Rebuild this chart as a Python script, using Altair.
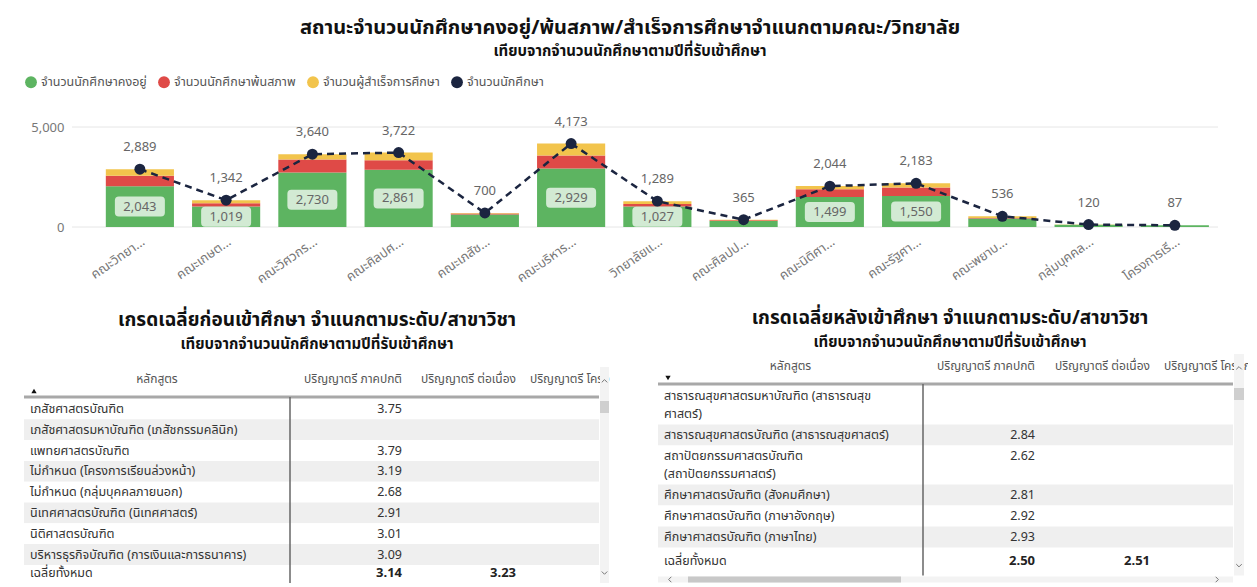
import altair as alt
import pandas as pd

FONT = "'Segoe UI', 'Noto Sans Thai', 'Noto Sans', 'DejaVu Sans', sans-serif"

# ---------------- top chart data ----------------
faculties = ["คณะวิทยา...", "คณะเกษต...", "คณะวิศวกร...", "คณะศิลปศ...", "คณะเภสัช...",
             "คณะบริหาร...", "วิทยาลัยแ...", "คณะศิลปป...", "คณะนิติศา...", "คณะรัฐศา...",
             "คณะพยาบ...", "กลุ่มบุคคล...", "โครงการเรี..."]
retained = [2043, 1019, 2730, 2861, 620, 2929, 1027, 300, 1499, 1550, 430, 110, 85]
dropped = [520, 170, 640, 480, 50, 640, 120, 40, 390, 430, 16, 5, 2]
graduated = [326, 153, 270, 381, 30, 604, 142, 25, 155, 203, 90, 5, 0]
total_students = [2889, 1342, 3640, 3722, 700, 4173, 1289, 365, 2044, 2183, 536, 120, 87]
y_ticks = [0, 5000]

series_names = ["จำนวนนักศึกษาคงอยู่", "จำนวนนักศึกษาพ้นสภาพ", "จำนวนผู้สำเร็จการศึกษา", "จำนวนนักศึกษา"]
series_colors = ["#5DB461", "#DF4A47", "#F2C44C", "#1B2540"]

top_title = "สถานะจำนวนนักศึกษาคงอยู่/พ้นสภาพ/สำเร็จการศึกษาจำแนกตามคณะ/วิทยาลัย"
sub_title = "เทียบจากจำนวนนักศึกษาตามปีที่รับเข้าศึกษา"

# ---------------- table data ----------------
table_headers = ["หลักสูตร", "ปริญญาตรี ภาคปกติ", "ปริญญาตรี ต่อเนื่อง", "ปริญญาตรี โครงการพิเศษ"]
total_label = "เฉลี่ยทั้งหมด"

left_title = "เกรดเฉลี่ยก่อนเข้าศึกษา จำแนกตามระดับ/สาขาวิชา"
left_courses = ["เภสัชศาสตรบัณฑิต", "เภสัชศาสตรมหาบัณฑิต (เภสัชกรรมคลินิก)", "แพทยศาสตรบัณฑิต",
                "ไม่กำหนด (โครงการเรียนล่วงหน้า)", "ไม่กำหนด (กลุ่มบุคคลภายนอก)",
                "นิเทศศาสตรบัณฑิต (นิเทศศาสตร์)", "นิติศาสตรบัณฑิต",
                "บริหารธุรกิจบัณฑิต (การเงินและการธนาคาร)"]
left_regular = ["3.75", "", "3.79", "3.19", "2.68", "2.91", "3.01", "3.09"]
left_totals = ["3.14", "3.23"]

right_title = "เกรดเฉลี่ยหลังเข้าศึกษา จำแนกตามระดับ/สาขาวิชา"
right_courses = ["สาธารณสุขศาสตรมหาบัณฑิต (สาธารณสุข\nศาสตร์)", "สาธารณสุขศาสตรบัณฑิต (สาธารณสุขศาสตร์)",
                 "สถาปัตยกรรมศาสตรบัณฑิต\n(สถาปัตยกรรมศาสตร์)", "ศึกษาศาสตรบัณฑิต (สังคมศึกษา)",
                 "ศึกษาศาสตรบัณฑิต (ภาษาอังกฤษ)", "ศึกษาศาสตรบัณฑิต (ภาษาไทย)"]
right_regular = ["", "2.84", "2.62", "2.81", "2.92", "2.93"]
right_totals = ["2.50", "2.51"]

# ---------------- top chart ----------------
TOP_W, TOP_H = 1194, 130
rows = []
for i, f in enumerate(faculties):
    for k, vals in enumerate([retained, dropped, graduated]):
        rows.append({"faculty": f, "series": series_names[k], "value": vals[i], "order": k})
bars_df = pd.DataFrame(rows)
tot_df = pd.DataFrame({"faculty": faculties, "total": total_students, "retained": retained})
tot_df["mid"] = tot_df["retained"] / 2
tot_df["show"] = tot_df["retained"] >= 1000

xenc = alt.X("faculty:N", sort=faculties,
             scale=alt.Scale(paddingInner=0.21, paddingOuter=0.527, align=0.9),
             axis=alt.Axis(title=None, labelAngle=-35, labelAlign="right", labelBaseline="top",
                           labelColor="#777777", labelFontSize=13, ticks=False, domain=False,
                           labelPadding=8, labelFont=FONT))
yscale = alt.Scale(domain=[0, 6500])
yaxis = alt.Axis(values=y_ticks, labelExpr="format(datum.value, ',')", title=None,
                 labelColor="#777777", labelFontSize=13, ticks=False, domain=False, grid=False,
                 labelAlign="right", labelPadding=-40, minExtent=0, maxExtent=0, labelFont=FONT)

grid = alt.Chart(pd.DataFrame({"v": y_ticks})).mark_rule(color="#e6e6e6", strokeWidth=1).encode(
    y=alt.Y("v:Q", scale=yscale, axis=yaxis), x=alt.value(48), x2=alt.value(TOP_W))

bars = alt.Chart(bars_df).mark_bar().encode(
    x=xenc,
    y=alt.Y("value:Q", stack="zero", scale=yscale, axis=yaxis),
    color=alt.Color("series:N", scale=alt.Scale(domain=series_names, range=series_colors),
                    legend=alt.Legend(title=None, orient="none", legendX=0, legendY=-22,
                                      direction="horizontal", symbolType="circle", symbolSize=140,
                                      labelFontSize=12.5, labelColor="#555555", columnPadding=10,
                                      labelOffset=3, labelLimit=300, labelFont=FONT)),
    order=alt.Order("order:Q"),
)

base = alt.Chart(tot_df).encode(x=alt.X("faculty:N", sort=faculties))
ytot = alt.Y("total:Q", scale=yscale, axis=yaxis)
ymid = alt.Y("mid:Q", scale=yscale, axis=yaxis)
line = base.mark_line(color="#1B2540", strokeDash=[7, 5], strokeWidth=2.5).encode(y=ytot)
pts = base.mark_circle(size=120, color="#1B2540", opacity=1).encode(y=ytot)
tot_lbl = base.mark_text(dy=-22, fontSize=13, color="#666666", font=FONT).encode(
    y=ytot, text=alt.Text("total:Q", format=","))

RR = "M-0.84,-0.4 L0.84,-0.4 Q1,-0.4 1,-0.24 L1,0.24 Q1,0.4 0.84,0.4 L-0.84,0.4 Q-1,0.4 -1,0.24 L-1,-0.24 Q-1,-0.4 -0.84,-0.4 Z"
boxes = base.transform_filter("datum.show").mark_point(
    shape=RR, size=2500, filled=True, color="white", opacity=0.72, strokeWidth=0).encode(y=ymid)
box_lbl = base.transform_filter("datum.show").mark_text(fontSize=13, color="#666666", font=FONT).encode(
    y=ymid, text=alt.Text("retained:Q", format=","))

top = alt.layer(grid, bars, line, pts, tot_lbl, boxes, box_lbl).properties(
    width=TOP_W, height=TOP_H,
    title=alt.Title(top_title, subtitle=sub_title, fontSize=20, subtitleFontSize=15,
                    fontWeight="bold", subtitleFontWeight="bold", color="#111111",
                    subtitleColor="#111111", anchor="middle", offset=38, font=FONT,
                    subtitleFont=FONT, subtitlePadding=6, dx=9),
)

# ---------------- tables ----------------
LINE_H = 18


def make_table(courses, regular, totals, title, edges, hdr_y, row_h, total_off, width, height,
               arrow, title_offset, hscroll):
    t_left, c1, c2, c3, c4, sb_r = edges
    line_y = hdr_y + 18
    bands, names, vals = [], [], []
    y = line_y + 1.5
    for i, (c, v) in enumerate(zip(courses, regular)):
        parts = c.split("\n")
        h = row_h + LINE_H * (len(parts) - 1)
        bands.append({"x": t_left, "x2": c4, "y": y, "y2": y + h,
                      "fill": "#efefef" if i % 2 == 1 else "#ffffff"})
        for j, p in enumerate(parts):
            names.append({"x": t_left + 6, "y": y + row_h / 2 + LINE_H * j, "t": p})
        if v:
            vals.append({"x": c2, "y": y + row_h / 2, "t": v})
        y += h
    ty = y + total_off
    names.append({"x": t_left + 6, "y": ty, "t": total_label})
    tot_vals = [{"x": c2, "y": ty, "t": totals[0]}, {"x": c3, "y": ty, "t": totals[1]}]
    bottom = ty + total_off + 2

    X = lambda f: alt.X(f"{f}:Q", scale=alt.Scale(domain=[0, width]), axis=None)
    Y = lambda f: alt.Y(f"{f}:Q", scale=alt.Scale(domain=[0, height], reverse=True), axis=None)

    band_l = alt.Chart(pd.DataFrame(bands)).mark_rect().encode(
        x=X("x"), x2="x2", y=Y("y"), y2="y2", fill=alt.Fill("fill:N", scale=None))
    name_l = alt.Chart(pd.DataFrame(names)).mark_text(
        align="left", baseline="middle", fontSize=12.5, color="#333333", font=FONT).encode(
        x=X("x"), y=Y("y"), text="t:N")
    val_l = alt.Chart(pd.DataFrame(vals)).mark_text(
        align="right", baseline="middle", fontSize=12.5, color="#333333", font=FONT).encode(
        x=X("x"), y=Y("y"), text="t:N")
    tot_l = alt.Chart(pd.DataFrame(tot_vals)).mark_text(
        align="right", baseline="middle", fontSize=13, fontWeight="bold", color="#222222",
        font=FONT).encode(x=X("x"), y=Y("y"), text="t:N")
    hdr = pd.DataFrame([
        {"x": (t_left + c1) / 2, "y": hdr_y, "t": table_headers[0], "a": "center"},
        {"x": c2, "y": hdr_y, "t": table_headers[1], "a": "right"},
        {"x": c3, "y": hdr_y, "t": table_headers[2], "a": "right"},
    ])
    hdr_c = alt.Chart(hdr[hdr.a == "center"]).mark_text(
        align="center", baseline="middle", fontSize=12, color="#555555", font=FONT).encode(
        x=X("x"), y=Y("y"), text="t:N")
    hdr_r = alt.Chart(hdr[hdr.a == "right"]).mark_text(
        align="right", baseline="middle", fontSize=12, color="#555555", font=FONT).encode(
        x=X("x"), y=Y("y"), text="t:N")
    hdr_4 = alt.Chart(pd.DataFrame([{"x": c3 + 14, "y": hdr_y, "t": table_headers[3]}])).mark_text(
        align="left", baseline="middle", fontSize=12, color="#555555", font=FONT, clip=True).encode(
        x=X("x"), y=Y("y"), text="t:N")
    hline = alt.Chart(pd.DataFrame([{"x": t_left, "x2": c4, "y": line_y}])).mark_rule(
        color="#a8a8a8", strokeWidth=3).encode(x=X("x"), x2="x2", y=Y("y"))
    vline = alt.Chart(pd.DataFrame([{"x": c1, "y": line_y, "y2": bottom}])).mark_rule(
        color="#666666", strokeWidth=1.5).encode(x=X("x"), y=Y("y"), y2="y2")
    arrow_l = alt.Chart(pd.DataFrame([{"x": t_left + 10, "y": line_y - 6}])).mark_point(
        shape=arrow, size=28, filled=True, color="#111111", opacity=1).encode(x=X("x"), y=Y("y"))
    sb_rows = [
        {"x": c4 + 1, "x2": sb_r, "y": hdr_y - 12, "y2": bottom, "f": "#f3f3f3"},
        {"x": c4 + 1, "x2": sb_r, "y": line_y + 4, "y2": line_y + 16, "f": "#cfcfcf"},
    ]
    chev_rows = [
        {"x": (c4 + 1 + sb_r) / 2, "y": hdr_y + 2, "s": "M-1,0.5 L0,-0.5 L1,0.5"},
        {"x": (c4 + 1 + sb_r) / 2, "y": bottom - 10, "s": "M-1,-0.5 L0,0.5 L1,-0.5"},
    ]
    if hscroll:
        sb_rows += [
            {"x": t_left, "x2": c4, "y": bottom + 1, "y2": bottom + 7, "f": "#f3f3f3"},
            {"x": t_left + 30, "x2": t_left + 243, "y": bottom + 1, "y2": bottom + 7, "f": "#c8c8c8"},
        ]
        chev_rows += [
            {"x": t_left + 12, "y": bottom + 4, "s": "M0.5,-1 L-0.5,0 L0.5,1"},
            {"x": c4 - 16, "y": bottom + 4, "s": "M-0.5,-1 L0.5,0 L-0.5,1"},
        ]
    sb_l = alt.Chart(pd.DataFrame(sb_rows)).mark_rect().encode(
        x=X("x"), x2="x2", y=Y("y"), y2="y2", fill=alt.Fill("f:N", scale=None))
    chev_l = alt.Chart(pd.DataFrame(chev_rows)).mark_point(
        filled=False, color="#777777", strokeWidth=1, size=30, opacity=1).encode(
        x=X("x"), y=Y("y"), shape=alt.Shape("s:N", scale=None))
    return alt.layer(band_l, hline, vline, name_l, val_l, tot_l, hdr_c, hdr_r, hdr_4, sb_l,
                     chev_l, arrow_l).properties(
        width=width, height=height,
        title=alt.Title(title, subtitle=sub_title, fontSize=19, subtitleFontSize=15,
                        fontWeight="bold", subtitleFontWeight="bold", color="#111111",
                        subtitleColor="#111111", anchor="middle", offset=title_offset, font=FONT,
                        subtitleFont=FONT, subtitlePadding=7),
    )


left_tbl = make_table(left_courses, left_regular, left_totals, left_title,
                      edges=[0, 266, 378, 492, 575, 585], hdr_y=25, row_h=20.8, total_off=8,
                      width=586, height=229, arrow="triangle-up", title_offset=2, hscroll=False)
right_tbl = make_table(right_courses, right_regular, right_totals, right_title,
                       edges=[6, 271, 383, 498, 581, 592], hdr_y=12, row_h=21, total_off=13,
                       width=596, height=229, arrow="triangle-down", title_offset=4, hscroll=True)

chart = alt.vconcat(top, alt.hconcat(left_tbl, right_tbl, spacing=42), spacing=23).configure(
    padding={"left": 14, "top": 10, "right": 0, "bottom": 0},
    font=FONT,
).configure_view(stroke=None)

chart.save("out.html", embed_options={"renderer": "svg", "actions": False})
